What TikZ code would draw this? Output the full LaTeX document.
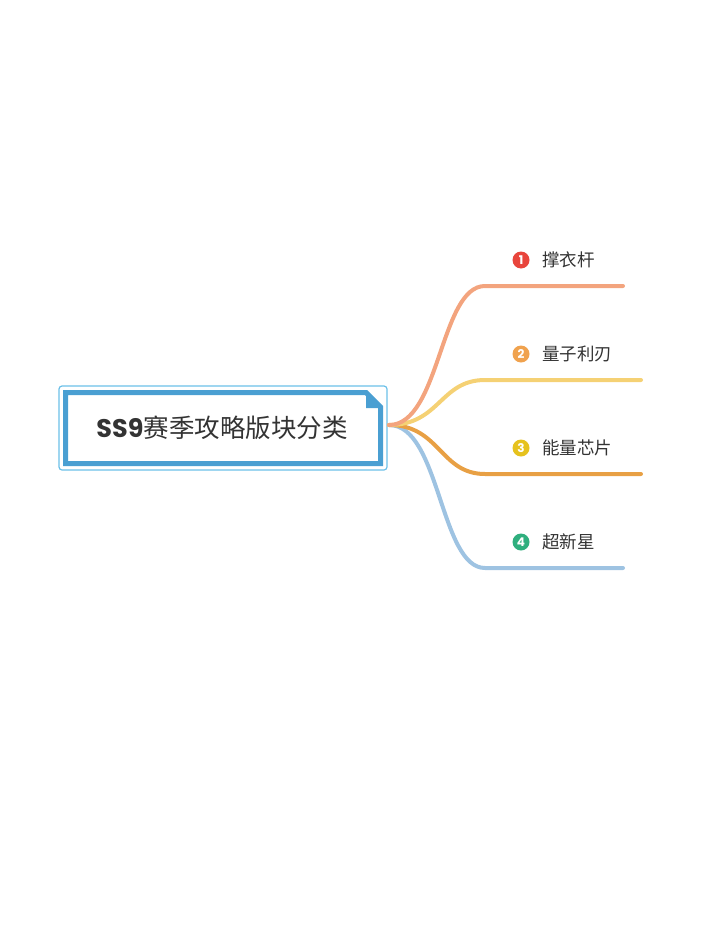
\documentclass[tikz,border=0pt]{standalone}
\usepackage{fontspec}
\setmainfont{Noto Sans}
\newfontfamily\cjk{Noto Sans CJK SC}
\newfontfamily\pop{Poppins}
\usetikzlibrary{calc}
\definecolor{boxouter}{HTML}{6CC0E8}
\definecolor{boxinner}{HTML}{4A9FD2}
\definecolor{cA}{HTML}{F3A47E}
\definecolor{cB}{HTML}{F5D174}
\definecolor{cC}{HTML}{E8A044}
\definecolor{cD}{HTML}{9EC3E2}
\definecolor{nA}{HTML}{E8453C}
\definecolor{nB}{HTML}{F0A24E}
\definecolor{nC}{HTML}{E6C21E}
\definecolor{nD}{HTML}{2FAF7E}
\definecolor{txt}{HTML}{333333}
\tikzset{
  branch/.style={line width=4pt, line cap=round},
  numdot/.style={circle, fill=#1, minimum size=17pt, inner sep=0pt, text=white, font=\pop\bfseries\fontsize{12}{12}\selectfont},
  lbl/.style={anchor=west, inner sep=0pt, text=txt, font=\cjk\fontsize{17.5}{18}\selectfont},
}
\begin{document}
\begin{tikzpicture}[x=1pt,y=-1pt]
\useasboundingbox (0,0) rectangle (720,950);
% central box
\draw[boxouter, line width=1.2pt, rounded corners=3pt] (59,386) rectangle (387,470);
\draw[boxinner, line width=5pt] (65.5,392.5) -- (366,392.5) -- (380.5,407) -- (380.5,463.5) -- (65.5,463.5) -- cycle;
\fill[boxinner] (366,390) -- (366,408) -- (383,408) -- cycle;
\node (root) at (222,428) [inner sep=0pt, text=txt, font=\fontsize{25.5}{27}\selectfont] {{\pop\bfseries SS9}{\cjk 赛季攻略版块分类}};
\coordinate (hub) at (389,425);
% branch ends
\coordinate (a1) at (485,286); \coordinate (a2) at (623,286);
\coordinate (b1) at (485,380); \coordinate (b2) at (641,380);
\coordinate (c1) at (485,474); \coordinate (c2) at (641,474);
\coordinate (d1) at (485,568); \coordinate (d2) at (623,568);
\draw[branch, cD] (hub) .. controls (440,425) and (440,568) .. (d1) -- (d2);
\draw[branch, cC] (hub) .. controls (440,425) and (440,474) .. (c1) -- (c2);
\draw[branch, cB] (hub) .. controls (440,425) and (440,380) .. (b1) -- (b2);
\draw[branch, cA] (hub) .. controls (440,425) and (440,286) .. (a1) -- (a2);
% labels
\node[numdot=nA] (n1) at (521,260) {1};
\node[lbl] (t1) at (542,260) {撑衣杆};
\node[numdot=nB] (n2) at (521,354) {2};
\node[lbl] (t2) at (542,354) {量子利刃};
\node[numdot=nC] (n3) at (521,448) {3};
\node[lbl] (t3) at (542,448) {能量芯片};
\node[numdot=nD] (n4) at (521,542) {4};
\node[lbl] (t4) at (542,542) {超新星};
\end{tikzpicture}
\end{document}
